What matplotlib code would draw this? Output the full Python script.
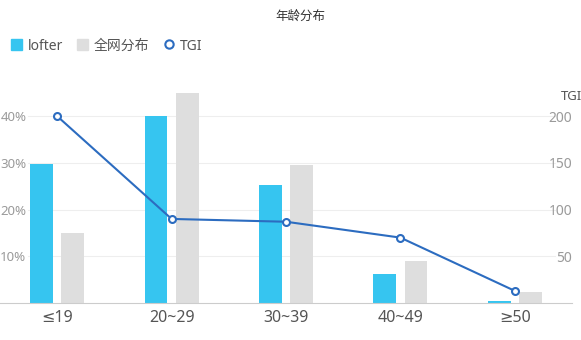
import matplotlib.pyplot as plt
import numpy as np
from matplotlib.patches import Patch
from matplotlib.lines import Line2D

plt.rcParams['font.family'] = ['Noto Sans', 'Noto Sans CJK SC', 'DejaVu Sans']

categories = ['≤19', '20~29', '30~39', '40~49', '≥50']
lofter = [29.8, 40.0, 25.3, 6.2, 0.4]
all_net = [15.0, 45.0, 29.5, 9.0, 2.4]
tgi = [200, 90, 87, 70, 13]

blue = '#36c5f0'
gray = '#dedede'
line_c = '#2c6cc0'

fig = plt.figure(figsize=(5.81, 3.40), dpi=100)
ax = fig.add_axes([0.0, 1 - 303 / 340, 572 / 581, (303 - 69.5) / 340])
x = np.arange(len(categories))
w = 0.2
ax.bar(x - 0.136, lofter, w, color=blue, zorder=2)
ax.bar(x + 0.136, all_net, w, color=gray, zorder=2)
ax.set_xlim(-0.5, 4.5)
ax.set_ylim(0, 50)
ax.set_xticks(x)
ax.set_xticklabels(categories, fontsize=11.5, color='#555555', family=['Noto Sans', 'DejaVu Sans'])
ax.tick_params(axis='x', length=0, pad=5)
ax.set_yticks([10, 20, 30, 40])
ax.set_yticklabels(['10%', '20%', '30%', '40%'], fontsize=9.5, color='#9a9a9a')
ax.tick_params(axis='y', length=0, pad=-19)
for v in [10, 20, 30, 40]:
    ax.axhline(v, xmin=28 / 572, xmax=555 / 572, color='#eeeeee', lw=0.8, zorder=1)
for s in ['top', 'left', 'right']:
    ax.spines[s].set_visible(False)
ax.spines['bottom'].set_color('#cccccc')

ax2 = ax.twinx()
ax2.plot(x, tgi, color=line_c, lw=1.5, marker='o', ms=5, mfc='white', mec=line_c, mew=1.5, zorder=3)
ax2.set_ylim(0, 250)
ax2.set_yticks([50, 100, 150, 200])
ax2.set_yticklabels(['50', '100', '150', '200'], fontsize=10, color='#9a9a9a')
ax2.tick_params(axis='y', length=0, pad=0)
plt.setp(ax2.get_yticklabels(), ha='right')
for s in ['top', 'left', 'right', 'bottom']:
    ax2.spines[s].set_visible(False)
ax2.text(561 / 572, 1 - (97 - 69.5) / (303 - 69.5), 'TGI', transform=ax2.transAxes,
         fontsize=9.5, color='#555555', ha='left', va='center')

fig.text(300 / 581, 1 - 16 / 340, '年龄分布', fontsize=9, color='#333333', ha='center', va='center')

handles = [Patch(color=blue), Patch(color=gray),
           Line2D([], [], color='none', marker='o', ms=6, mfc='white', mec=line_c, mew=1.5)]
fig.legend(handles, ['lofter', '全网分布', 'TGI'], loc='center left', bbox_to_anchor=(0.01, 1 - 46 / 340),
           ncol=3, frameon=False, fontsize=10, handlelength=0.8, handleheight=0.8,
           handletextpad=0.4, columnspacing=1.0, labelcolor='#555555', borderaxespad=0)

fig.savefig('out.png', dpi=100)
